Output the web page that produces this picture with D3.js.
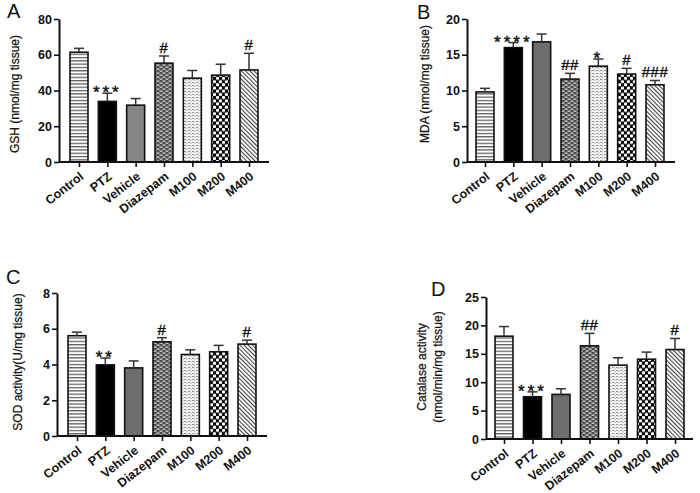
<!DOCTYPE html>
<html>
<head>
<meta charset="utf-8">
<script src="https://cdn.jsdelivr.net/npm/d3@7"></script>
<style>
  body { margin: 0; background: #fff; }
  svg { display: block; font-family: "Liberation Sans", Arial, sans-serif; }
</style>
</head>
<body>
<svg id="fig" width="700" height="493"></svg>
<script>
// groups shared by all four panels
const groups = ['Control', 'PTZ', 'Vehicle', 'Diazepam', 'M100', 'M200', 'M400'];

// A: GSH
const gshMean = [61.4, 33.9, 31.8, 55.3, 46.9, 48.6, 51.5];
const gshErr = [2.2, 4.6, 3.7, 4.0, 4.3, 6.1, 9.3];
const gshMarks = ['', '***', '', '#', '', '', '#'];
const gshTicks = [0, 20, 40, 60, 80];

// B: MDA
const mdaMean = [9.8, 16.0, 16.8, 11.6, 13.4, 12.3, 10.8];
const mdaErr = [0.5, 0.7, 1.1, 0.8, 1.0, 0.8, 0.6];
const mdaMarks = ['', '****', '', '##', '*', '#', '###'];
const mdaTicks = [0, 5, 10, 15, 20];

// C: SOD
const sodMean = [5.61, 3.98, 3.81, 5.27, 4.56, 4.71, 5.14];
const sodErr = [0.2, 0.38, 0.39, 0.23, 0.26, 0.36, 0.22];
const sodMarks = ['', '**', '', '#', '', '', '#'];
const sodTicks = [0, 2, 4, 6, 8];

// D: Catalase
const catMean = [18.1, 7.44, 7.85, 16.4, 13.0, 14.05, 15.75];
const catErr = [1.7, 0.86, 0.99, 2.2, 1.3, 1.25, 1.95];
const catMarks = ['', '***', '', '##', '', '', '#'];
const catTicks = [0, 5, 10, 15, 20, 25];

const svg = d3.select('#fig');
svg.append('rect').attr('width', 700).attr('height', 493).attr('fill', '#fff');

// fill patterns, one per group
const defs = svg.append('defs');

const pHoriz = defs.append('pattern').attr('id', 'p-horiz')
    .attr('patternUnits', 'userSpaceOnUse').attr('width', 6).attr('height', 3.3);
pHoriz.append('rect').attr('width', 6).attr('height', 3.3).attr('fill', '#fff');
pHoriz.append('rect').attr('y', 1).attr('width', 6).attr('height', 1).attr('fill', '#333');

const pBrick = defs.append('pattern').attr('id', 'p-brick')
    .attr('patternUnits', 'userSpaceOnUse').attr('width', 6).attr('height', 4);
pBrick.append('rect').attr('width', 6).attr('height', 4).attr('fill', '#4a4a4a');
pBrick.append('rect').attr('x', 0.5).attr('y', 0.5).attr('width', 3).attr('height', 1.2).attr('fill', '#e8e8e8');
pBrick.append('rect').attr('x', 3.5).attr('y', 2.5).attr('width', 3).attr('height', 1.2).attr('fill', '#e8e8e8');
pBrick.append('rect').attr('x', -2.5).attr('y', 2.5).attr('width', 3).attr('height', 1.2).attr('fill', '#e8e8e8');

const pDash = defs.append('pattern').attr('id', 'p-dash')
    .attr('patternUnits', 'userSpaceOnUse').attr('width', 4).attr('height', 3);
pDash.append('rect').attr('width', 4).attr('height', 3).attr('fill', '#f4f4f4');
pDash.append('rect').attr('x', 0).attr('y', 1).attr('width', 2.5).attr('height', 1).attr('fill', '#999');
pDash.append('rect').attr('x', 2).attr('y', 2.5).attr('width', 2).attr('height', 0.5).attr('fill', '#bbb');

const pDots = defs.append('pattern').attr('id', 'p-dots')
    .attr('patternUnits', 'userSpaceOnUse').attr('width', 6).attr('height', 6.4);
pDots.append('rect').attr('width', 6).attr('height', 6.4).attr('fill', '#000');
pDots.append('circle').attr('cx', 1.5).attr('cy', 1.6).attr('r', 1.7).attr('fill', '#fff');
pDots.append('circle').attr('cx', 4.5).attr('cy', 4.8).attr('r', 1.7).attr('fill', '#fff');

const pDiag = defs.append('pattern').attr('id', 'p-diag')
    .attr('patternUnits', 'userSpaceOnUse').attr('width', 3).attr('height', 3)
    .attr('patternTransform', 'rotate(-45)');
pDiag.append('rect').attr('width', 3).attr('height', 3).attr('fill', '#fff');
pDiag.append('rect').attr('width', 1.1).attr('height', 3).attr('fill', '#444');

const fills = ['url(#p-horiz)', '#000', '#6e6e6e', 'url(#p-brick)', 'url(#p-dash)', 'url(#p-dots)', 'url(#p-diag)'];

function drawPanel(opt) {
    const g = svg.append('g');

    const y = d3.scaleLinear()
        .domain([0, d3.max(opt.ticks)])
        .range([opt.bottom, opt.top]);

    const x = d3.scalePoint()
        .domain(groups)
        .range([opt.first, opt.last]);

    const barW = 18;

    // bars
    g.selectAll('.bar')
        .data(groups)
        .enter().append('rect')
        .attr('x', d => x(d) - barW / 2)
        .attr('y', (d, i) => y(opt.mean[i]))
        .attr('width', barW)
        .attr('height', (d, i) => y(0) - y(opt.mean[i]))
        .attr('fill', (d, i) => i === 2 && opt.vehicle ? opt.vehicle : fills[i])
        .attr('stroke', '#111')
        .attr('stroke-width', 1.6);

    // upper error bars
    groups.forEach((d, i) => {
        const top = y(opt.mean[i] + opt.err[i]);
        g.append('line')
            .attr('x1', x(d)).attr('x2', x(d))
            .attr('y1', y(opt.mean[i])).attr('y2', top)
            .attr('stroke', '#333').attr('stroke-width', 1.5);
        g.append('line')
            .attr('x1', x(d) - 5).attr('x2', x(d) + 5)
            .attr('y1', top).attr('y2', top)
            .attr('stroke', '#333').attr('stroke-width', 1.5);

        const m = opt.marks[i];
        if (m) {
            const star = m[0] === '*';
            g.append('text')
                .attr('x', x(d))
                .attr('y', star ? top + 5 : top - 3)
                .attr('text-anchor', 'middle')
                .style('font-size', star ? '17px' : '15px')
                .style('letter-spacing', star ? '3px' : '0.5px')
                .attr('fill', '#111')
                .attr('stroke', '#111').attr('stroke-width', 0.4)
                .text(m);
        }
    });

    // y axis
    const yAxis = g.append('g')
        .attr('transform', `translate(${opt.axisX},0)`)
        .call(d3.axisLeft(y).tickValues(opt.ticks).tickSize(5).tickPadding(2).tickSizeOuter(0));
    yAxis.select('.domain').attr('stroke-width', 2).attr('stroke', '#111');
    yAxis.selectAll('.tick line').attr('stroke-width', 1.6).attr('stroke', '#111');
    yAxis.selectAll('.tick text')
        .style('font-size', '12.5px').style('font-weight', 'bold').attr('fill', '#111');

    // x axis
    const xAxis = g.append('g')
        .attr('transform', `translate(0,${opt.bottom})`)
        .call(d3.axisBottom(x).tickSize(5).tickSizeOuter(0));
    xAxis.select('.domain')
        .attr('d', `M${opt.axisX},0H${opt.axisEnd}`)
        .attr('stroke-width', 2).attr('stroke', '#111');
    xAxis.selectAll('.tick line').attr('stroke-width', 1.6).attr('stroke', '#111');
    xAxis.selectAll('.tick text')
        .style('font-size', '12.5px').style('font-weight', 'bold').attr('fill', '#111')
        .attr('text-anchor', 'end')
        .attr('dy', null)
        .attr('y', 0)
        .attr('transform', 'translate(5,16) rotate(-38)');

    // y label
    const lab = g.append('text')
        .attr('transform', `translate(${opt.labelX},${opt.labelY}) rotate(-90)`)
        .attr('text-anchor', 'middle')
        .style('font-size', '12px')
        .attr('fill', '#111')
        .attr('stroke', '#111').attr('stroke-width', 0.25);
    opt.label.forEach((t, k) => {
        lab.append('tspan').attr('x', 0).attr('dy', k === 0 ? 0 : '1.35em').text(t);
    });

    // panel letter
    g.append('text')
        .attr('x', opt.letterX).attr('y', opt.letterY)
        .style('font-size', '20px')
        .attr('fill', '#111')
        .text(opt.letter);
}

drawPanel({
    letter: 'A', letterX: 7, letterY: 18, vehicle: '#858585',
    mean: gshMean, err: gshErr, marks: gshMarks, ticks: gshTicks,
    axisX: 59, axisEnd: 269, top: 19, bottom: 162, first: 79, last: 249,
    label: ['GSH (nmol/mg tissue)'], labelX: 19, labelY: 94
});

drawPanel({
    letter: 'B', letterX: 417, letterY: 19,
    mean: mdaMean, err: mdaErr, marks: mdaMarks, ticks: mdaTicks,
    axisX: 467, axisEnd: 675, top: 19, bottom: 162, first: 485, last: 655,
    label: ['MDA (nmol/mg tissue)'], labelX: 429, labelY: 84
});

drawPanel({
    letter: 'C', letterX: 6, letterY: 284,
    mean: sodMean, err: sodErr, marks: sodMarks, ticks: sodTicks,
    axisX: 57, axisEnd: 267, top: 293, bottom: 436, first: 77, last: 247,
    label: ['SOD activity(U/mg tissue)'], labelX: 22, labelY: 362
});

drawPanel({
    letter: 'D', letterX: 431, letterY: 296,
    mean: catMean, err: catErr, marks: catMarks, ticks: catTicks,
    axisX: 486, axisEnd: 693, top: 297, bottom: 439, first: 504, last: 675,
    label: ['Catalase activity', '(nmol/min/mg tissue)'], labelX: 426, labelY: 367
});
</script>
</body>
</html>
